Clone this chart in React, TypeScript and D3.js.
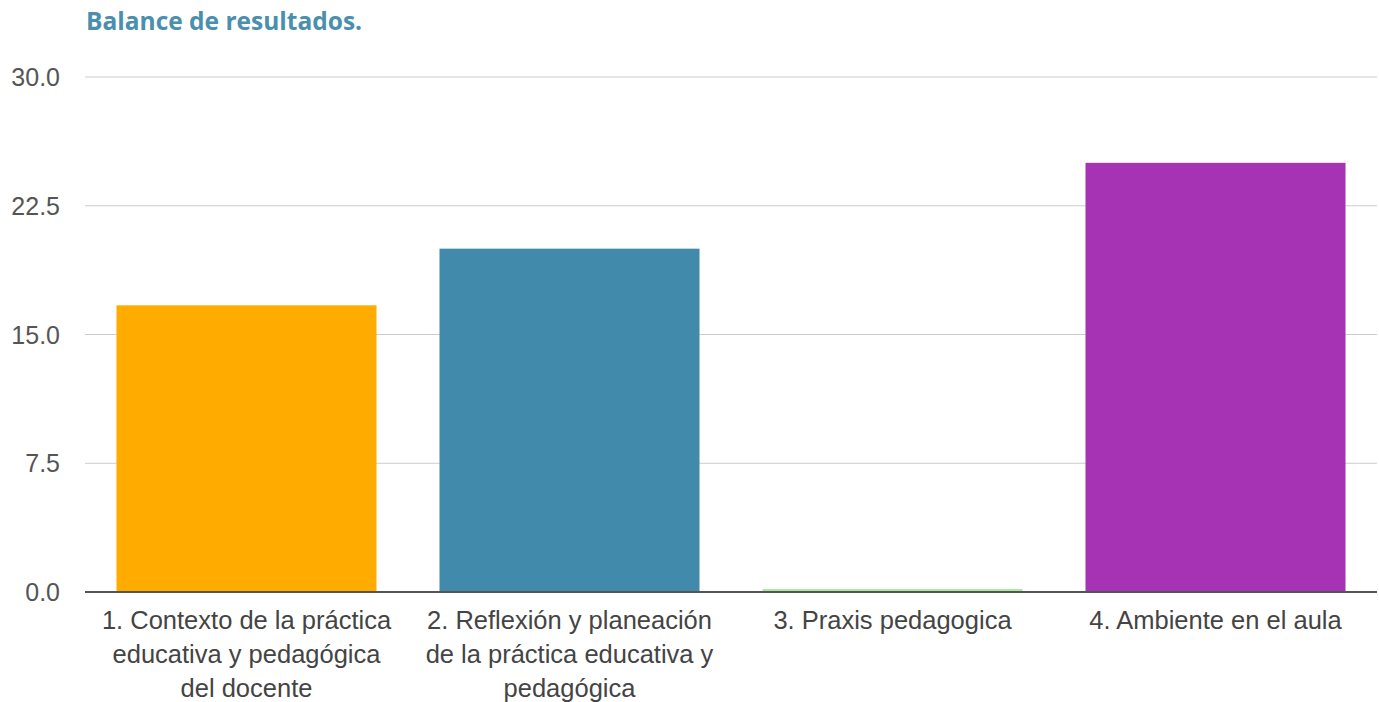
import React from "react";
import * as d3 from "d3";

const categories = [
  ["1. Contexto de la práctica", "educativa y pedagógica", "del docente"],
  ["2. Reflexión y planeación", "de la práctica educativa y", "pedagógica"],
  ["3. Praxis pedagogica"],
  ["4. Ambiente en el aula"],
];
const values = [16.7, 20, 0, 25];
const colors = ["#ffab00", "#418aab", "#a8eca0", "#a633b3"];
const yTicks = [0, 7.5, 15, 22.5, 30];
const title = "Balance de resultados.";

const W = 1379;
const H = 702;
const left = 85;
const right = 1377;
const top = 77;
const bottom = 592;

export default function App() {
  const x = d3
    .scaleBand<number>()
    .domain(d3.range(categories.length))
    .range([left, right])
    .paddingInner(0.195)
    .paddingOuter(0.0975);
  const y = d3.scaleLinear().domain([0, 30]).range([bottom, top]);
  const font = "'Liberation Sans', Arial, sans-serif";
  return (
    <svg
      width={W}
      height={H}
      style={{ position: "absolute", left: 0, top: 0 }}
      fontFamily={font}
    >
      <rect width={W} height={H} fill="#fff" />
      <text
        x={86}
        y={30}
        fontFamily="'Open Sans', Lato, sans-serif"
        fontWeight={700}
        fontSize={24.5}
        fill="#4a8fad"
      >
        {title}
      </text>
      {yTicks.map((t) => (
        <g key={t}>
          {t !== 0 && (
            <line
              x1={left}
              x2={right}
              y1={y(t)}
              y2={y(t)}
              stroke="#cccccc"
              strokeWidth={1}
            />
          )}
          <text
            x={60}
            y={y(t)}
            dy="0.36em"
            textAnchor="end"
            fontSize={25}
            fill="#555"
          >
            {t.toFixed(1)}
          </text>
        </g>
      ))}
      {values.map((v, i) => {
        const h = Math.max(3, y(0) - y(v));
        return (
          <rect
            key={i}
            x={x(i)}
            y={y(0) - h}
            width={x.bandwidth()}
            height={h}
            fill={colors[i]}
          />
        );
      })}
      <line
        x1={left}
        x2={right}
        y1={bottom}
        y2={bottom}
        stroke="#555"
        strokeWidth={2}
      />
      {categories.map((lines, i) => (
        <text
          key={i}
          x={(x(i) as number) + x.bandwidth() / 2}
          y={629}
          textAnchor="middle"
          fontSize={25.5}
          fill="#444"
        >
          {lines.map((l, j) => (
            <tspan key={j} x={(x(i) as number) + x.bandwidth() / 2} dy={j === 0 ? 0 : 34}>
              {l}
            </tspan>
          ))}
        </text>
      ))}
    </svg>
  );
}
